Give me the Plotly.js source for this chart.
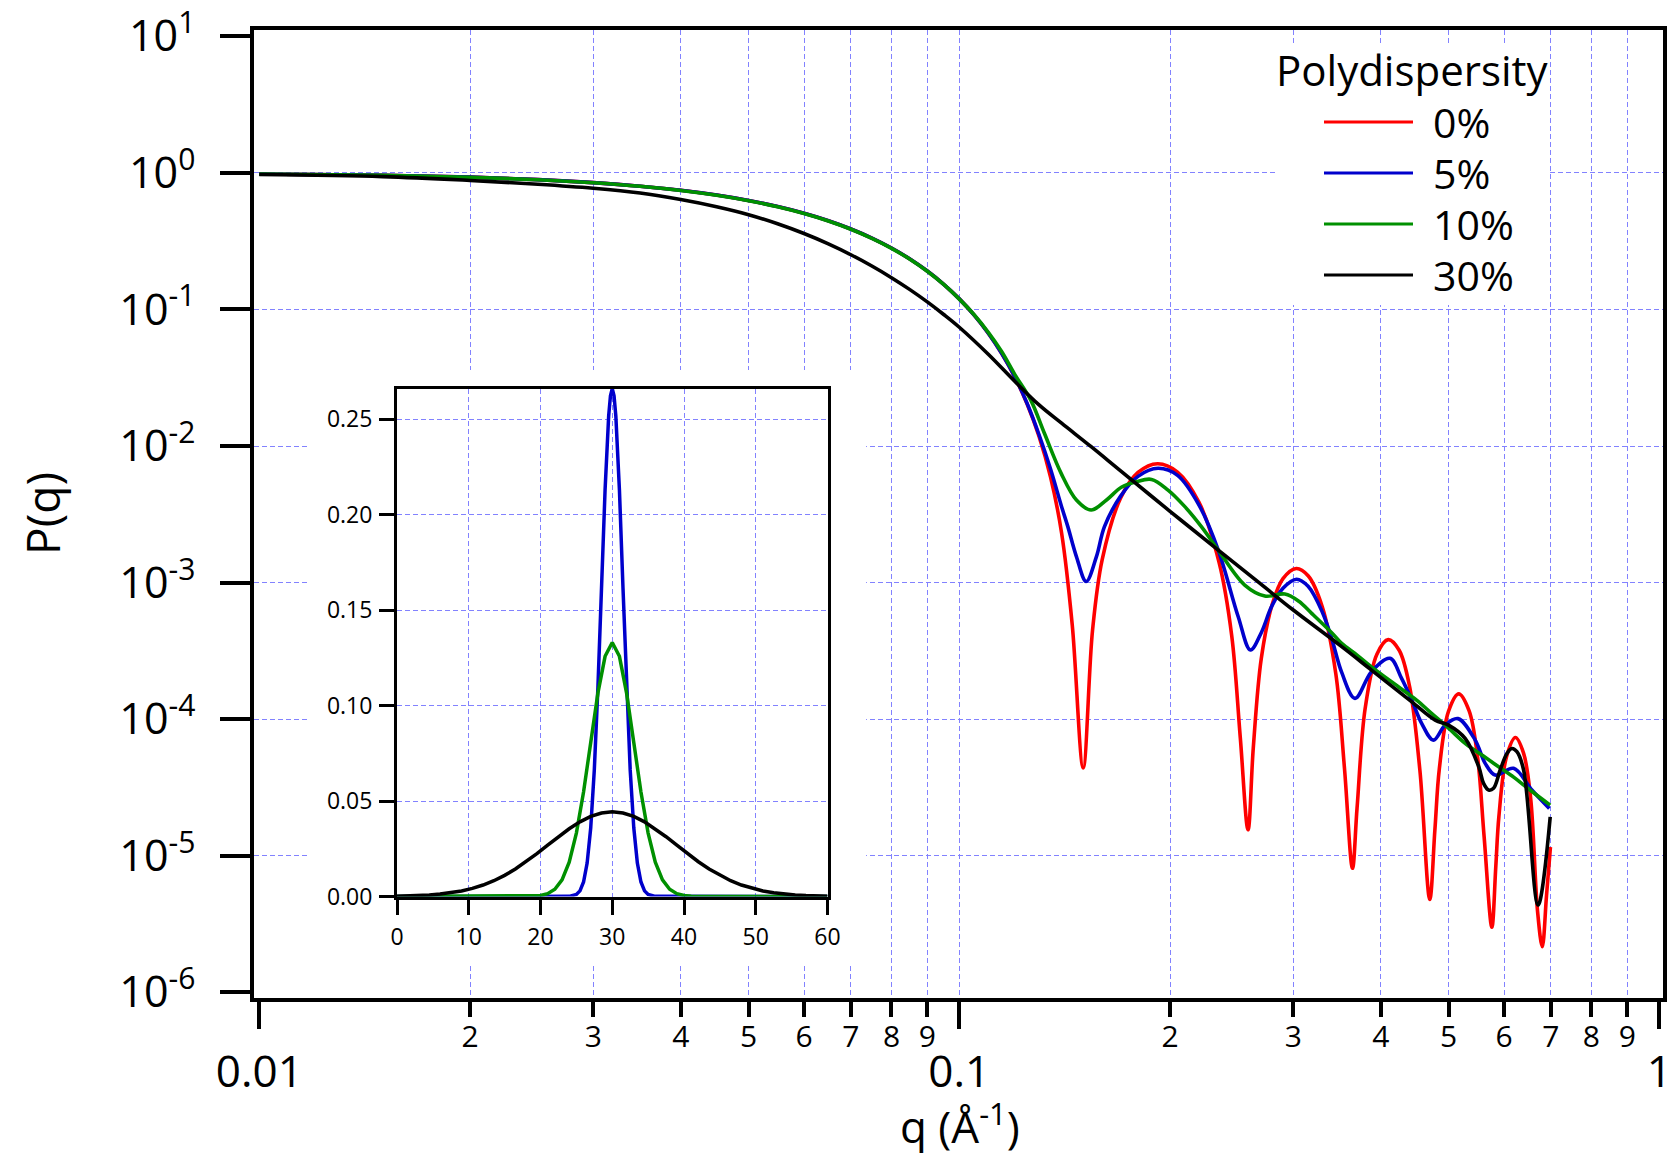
<!DOCTYPE html>
<html>
<head>
<meta charset="utf-8">
<script src="https://cdn.plot.ly/plotly-3.0.1.min.js"></script>
<style>
html,body{margin:0;padding:0;background:#ffffff;}
#chart{width:1673px;height:1153px;}
</style>
</head>
<body>
<div id="chart"></div>
<script>
// ---------------- data ----------------
const seriesNames = ['0%', '5%', '10%', '30%'];

const qRed = [0.01,0.015,0.02,0.025,0.03,0.035,0.04,0.045,0.05,0.055,0.06,0.065,0.07,0.075,0.08,0.085,0.09,0.095,0.1,0.105,0.11,0.115,0.12,0.125,0.13,0.135,0.14,0.145,0.1503,0.155,0.16,0.17,0.18,0.192,0.205,0.22,0.235,0.245,0.252,0.2585,0.263,0.27,0.28,0.29,0.303,0.315,0.33,0.345,0.355,0.3645,0.37,0.38,0.395,0.41,0.425,0.44,0.455,0.47,0.478,0.485,0.5,0.517,0.535,0.55,0.562,0.5765,0.584,0.59,0.605,0.623,0.64,0.655,0.67,0.6805,0.69,0.699];
const pRed = [0.9821,0.9602,0.9302,0.8928,0.8488,0.7992,0.7451,0.6876,0.6278,0.5669,0.5060,0.4461,0.3882,0.3331,0.2816,0.2341,0.1911,0.1529,0.1195,0.09092,0.06701,0.04752,0.03209,0.02032,0.01175,0.005931,0.002312,4.89e-4,4.4e-5,4.47e-4,1.476e-3,4.165e-3,6.403e-3,7.425e-3,6.453e-3,3.868e-3,1.409e-3,4.087e-4,7.35e-5,1.55e-5,6.15e-5,2.776e-4,6.969e-4,1.069e-3,1.268e-3,1.122e-3,6.66e-4,2.16e-4,4.39e-5,8.1e-6,2.23e-5,1.197e-4,2.991e-4,3.824e-4,3.197e-4,1.717e-4,4.22e-5,4.8e-6,1.546e-5,4.32e-5,1.147e-4,1.534e-4,1.151e-4,5.28e-5,1.385e-5,3.0e-6,8.3e-6,1.94e-5,5.32e-5,7.34e-5,5.62e-5,2.63e-5,3.93e-6,2.16e-6,5.09e-6,1.16e-5];

const qBlue = [0.01,0.015,0.02,0.025,0.03,0.035,0.04,0.045,0.05,0.055,0.06,0.065,0.07,0.075,0.08,0.085,0.09,0.095,0.1,0.105,0.11,0.115,0.12,0.125,0.13,0.135,0.14,0.1429,0.147,0.1518,0.157,0.1612,0.17,0.18,0.1923,0.205,0.22,0.2344,0.2503,0.2606,0.27,0.2793,0.29,0.3032,0.315,0.33,0.3404,0.3518,0.3675,0.388,0.4124,0.4284,0.443,0.4576,0.4757,0.4943,0.5157,0.5458,0.564,0.5829,0.6192,0.6577,0.6965];
const pBlue = [0.9821,0.9602,0.9302,0.8928,0.8488,0.7992,0.7451,0.6876,0.6278,0.5669,0.5060,0.4461,0.3882,0.3331,0.2816,0.2341,0.1911,0.1529,0.1195,0.09092,0.06701,0.04752,0.03215,0.02050,0.0121,0.0068,0.0036,0.00257,0.00155,0.00102,0.00155,0.00257,0.0043,0.0060,0.00687,0.0061,0.0037,0.00173,5.63e-4,3.21e-4,4.3e-4,6.67e-4,9.1e-4,1.06e-3,9.4e-4,6.1e-4,3.9e-4,2.2e-4,1.42e-4,2.23e-4,2.79e-4,1.99e-4,1.38e-4,9.33e-5,7.03e-5,9.06e-5,1.01e-4,7.03e-5,4.75e-5,3.9e-5,4.37e-5,3.03e-5,2.22e-5];

const qGreen = [0.01,0.015,0.02,0.025,0.03,0.035,0.04,0.045,0.05,0.055,0.06,0.065,0.07,0.075,0.08,0.085,0.09,0.095,0.1,0.105,0.11,0.115,0.12,0.1265,0.1323,0.1398,0.147,0.1543,0.1623,0.1704,0.179,0.1882,0.1987,0.21,0.222,0.2344,0.2557,0.2732,0.2918,0.3055,0.3187,0.3404,0.3518,0.37,0.388,0.4238,0.45,0.4732,0.5,0.528,0.56,0.5894,0.62,0.65,0.6985];
const pGreen = [0.9815,0.9595,0.9293,0.8915,0.8472,0.7975,0.7430,0.6853,0.6255,0.5646,0.5037,0.4440,0.3864,0.3316,0.2804,0.2333,0.1906,0.1525,0.1190,0.0915,0.0680,0.0490,0.0335,0.0217,0.0124,0.00631,0.00403,0.0034,0.00403,0.00499,0.00548,0.0057,0.00476,0.0036,0.00255,0.00173,9.6e-4,7.98e-4,8.25e-4,7.3e-4,5.96e-4,4.3e-4,3.59e-4,2.95e-4,2.42e-4,1.73e-4,1.38e-4,1.1e-4,8.6e-5,6.66e-5,5.4e-5,4.49e-5,3.75e-5,3.1e-5,2.35e-5];

const qBlack = [0.01,0.015,0.02,0.025,0.03,0.035,0.04,0.045,0.05,0.055,0.06,0.065,0.07,0.075,0.08,0.085,0.09,0.095,0.1,0.11,0.12,0.13,0.14,0.1543,0.17,0.2,0.2344,0.27,0.3,0.3518,0.388,0.443,0.4784,0.4999,0.528,0.5521,0.561,0.5704,0.5797,0.5925,0.6058,0.6158,0.626,0.64,0.6712,0.6985];
const pBlack = [0.972,0.938,0.880,0.826,0.772,0.712,0.638,0.565,0.494,0.424,0.3597,0.3021,0.2516,0.2079,0.1709,0.1397,0.1136,0.0919,0.0741,0.0470,0.0298,0.0200,0.0147,0.00989,0.00658,0.00333,0.00173,9.7e-4,6.3e-4,3.4e-4,2.29e-4,1.34e-4,9.86e-5,9.06e-5,7.24e-5,4.49e-5,3.39e-5,3.03e-5,3.12e-5,4.25e-5,5.62e-5,6.11e-5,5.78e-5,4.25e-5,4.36e-6,1.93e-5];

// inset: size distributions
const rBlue = [0,24,25,25.5,26,26.5,27,27.5,28,28.5,29,29.5,29.75,30,30.25,30.5,31,31.5,32,32.5,33,33.5,34,34.5,35,36,60];
const dBlue = [0,0.00009,0.00103,0.00296,0.0076,0.0175,0.0360,0.0663,0.1093,0.1613,0.2130,0.2516,0.2623,0.2660,0.2623,0.2516,0.2130,0.1613,0.1093,0.0663,0.0360,0.0175,0.0076,0.00296,0.00103,0.00009,0];
const rGreen = [0,18,19,20,21,22,23,24,25,26,27,28,29,30,31,32,33,34,35,36,37,38,39,40,41,42,60];
const dGreen = [0,0.000045,0.00016,0.00051,0.00148,0.0038,0.00874,0.0180,0.0332,0.0547,0.0807,0.1065,0.1258,0.1330,0.1258,0.1065,0.0807,0.0547,0.0332,0.0180,0.00874,0.0038,0.00148,0.00051,0.00016,0.000045,0];
const rBlack = [0,1.5,3,4.5,6,7.5,9,10.5,12,13.5,15,16.5,18,19.5,21,22.5,24,25.5,27,28.5,30,31.5,33,34.5,36,37.5,39,40.5,42,43.5,45,46.5,48,49.5,51,52.5,54,55.5,57,58.5,60];
const dBlack = [0.00017,0.00029,0.00049,0.00080,0.00127,0.00195,0.00291,0.00424,0.00600,0.00825,0.01106,0.01439,0.01822,0.02244,0.02689,0.03132,0.03549,0.03912,0.04193,0.04372,0.04433,0.04372,0.04193,0.03912,0.03549,0.03132,0.02689,0.02244,0.01822,0.01439,0.01106,0.00825,0.00600,0.00424,0.00291,0.00195,0.00127,0.00080,0.00049,0.00029,0.00017];

// tick labels / grid positions
const xDecadeTicks = [0.01, 0.1, 1];
const xDecadeLabels = ['0.01', '0.1', '1'];
const xMinorTicks = [0.02,0.03,0.04,0.05,0.06,0.07,0.08,0.09,0.2,0.3,0.4,0.5,0.6,0.7,0.8,0.9];
const xMinorLabels = ['2','3','4','5','6','7','8','9','2','3','4','5','6','7','8','9'];
const xGridVals = [0.02,0.03,0.04,0.05,0.06,0.07,0.08,0.09,0.1,0.2,0.3,0.4,0.5,0.6,0.7,0.8,0.9];
const yTicks = [1e-6,1e-5,1e-4,1e-3,1e-2,1e-1,1,10];
const yLabels = ['10<sup>-6</sup>','10<sup>-5</sup>','10<sup>-4</sup>','10<sup>-3</sup>','10<sup>-2</sup>','10<sup>-1</sup>','10<sup>0</sup>','10<sup>1</sup>'];
const yGridVals = [1e-5,1e-4,1e-3,1e-2,1e-1,1];
const insetXTicks = [0,10,20,30,40,50,60];
const insetYTicks = [0,0.05,0.10,0.15,0.20,0.25];

// ---------------- styling / layout ----------------
const colors = ['#ff0000', '#0000cc', '#009000', '#000000'];
const FONT = 'Open Sans, Noto Sans, sans-serif';
const W = 1673, H = 1153;
const L = 254, R = 1663, T = 30, B = 998;
const px = X => (X - L) / (R - L);
const py = Y => (B - Y) / (B - T);
const GRID = 'rgb(130,130,255)';
const GRIDDASH = '5px,3px';

const mainX = xDecadeTicks.concat(xMinorTicks).sort((a, b) => a - b);
const mainXText = mainX.map(v => {
  const i = xMinorTicks.indexOf(v);
  return i >= 0 ? xMinorLabels[i] : '';
});

const lw = 3.6;
const sp = {shape: 'spline', smoothing: 1};
const traces = [
  {x: qRed, y: pRed, name: seriesNames[0], mode: 'lines', line: Object.assign({color: colors[0], width: lw}, sp)},
  {x: qBlue, y: pBlue, name: seriesNames[1], mode: 'lines', line: Object.assign({color: colors[1], width: lw}, sp)},
  {x: qGreen, y: pGreen, name: seriesNames[2], mode: 'lines', line: Object.assign({color: colors[2], width: lw}, sp)},
  {x: qBlack, y: pBlack, name: seriesNames[3], mode: 'lines', line: Object.assign({color: colors[3], width: lw}, sp)},
  {x: [], y: [], xaxis: 'x2', yaxis: 'y', mode: 'lines', showlegend: false, hoverinfo: 'skip'},
  {x: [], y: [], xaxis: 'x4', yaxis: 'y', mode: 'lines', showlegend: false, hoverinfo: 'skip'},
  {x: [], y: [], xaxis: 'x', yaxis: 'y2', mode: 'lines', showlegend: false, hoverinfo: 'skip'},
  {x: rBlue, y: dBlue, xaxis: 'x3', yaxis: 'y3', mode: 'lines', line: {color: colors[1], width: 3.5}},
  {x: rGreen, y: dGreen, xaxis: 'x3', yaxis: 'y3', mode: 'lines', line: {color: colors[2], width: 3.5}},
  {x: rBlack, y: dBlack, xaxis: 'x3', yaxis: 'y3', mode: 'lines', line: {color: colors[3], width: 3.5}}
];

const xRange = [-2.0076, 0.0053];
const yRange = [-6.041, 1.046];

const shapes = [
  // white background behind the inset (interrupts the main grid)
  {type: 'rect', xref: 'x', yref: 'y', x0: 0.01178, x1: 0.0736, y0: 1.64e-6, y1: 0.036,
   fillcolor: '#ffffff', line: {width: 0}, layer: 'between'},
  // white background behind the legend
  {type: 'rect', xref: 'x', yref: 'y', x0: 0.2852, x1: 0.697, y0: 0.1077, y1: 8.63,
   fillcolor: '#ffffff', line: {width: 0}, layer: 'between'}
];
const legendY = [122, 173, 224, 275];
const annotations = [];
legendY.forEach((Y, i) => {
  shapes.push({type: 'line', xref: 'paper', yref: 'paper', x0: px(1324), x1: px(1413), y0: py(Y), y1: py(Y),
    line: {color: colors[i], width: 3}, layer: 'above'});
  annotations.push({xref: 'paper', yref: 'paper', x: px(1432), y: py(Y), xanchor: 'left', yanchor: 'middle',
    text: seriesNames[i], showarrow: false, borderpad: 0, font: {family: FONT, size: 41, color: '#000'}});
});
annotations.push({xref: 'paper', yref: 'paper', x: px(1275), y: py(70), xanchor: 'left', yanchor: 'middle',
  text: 'Polydispersity', showarrow: false, borderpad: 0, font: {family: FONT, size: 42, color: '#000'}});
annotations.push({xref: 'paper', yref: 'paper', x: px(960), y: py(1124), xanchor: 'center', yanchor: 'middle',
  text: 'q (Å<sup>-1</sup>)', showarrow: false, borderpad: 0, font: {family: FONT, size: 44, color: '#000'}});
annotations.push({xref: 'paper', yref: 'paper', x: px(42), y: py(514), xanchor: 'center', yanchor: 'middle',
  text: 'P(q)', textangle: -90, showarrow: false, borderpad: 0, font: {family: FONT, size: 46, color: '#000'}});

const gridAxis = {showgrid: true, gridcolor: GRID, gridwidth: 1, griddash: GRIDDASH, zeroline: false};

const layout = {
  width: W, height: H,
  margin: {l: L, r: W - R, t: T, b: H - B, pad: 0},
  paper_bgcolor: '#ffffff', plot_bgcolor: '#ffffff',
  font: {family: FONT, color: '#000'},
  showlegend: false,
  xaxis: {
    type: 'log', range: xRange, automargin: false,
    tickmode: 'array', tickvals: mainX, ticktext: mainXText,
    ticks: 'outside', ticklen: 15, tickwidth: 4, tickcolor: '#000',
    tickfont: {family: FONT, size: 30, color: '#000'}, ticklabelstandoff: -6,
    showline: true, linewidth: 4, linecolor: '#000', mirror: true,
    showgrid: false, zeroline: false
  },
  xaxis2: {
    type: 'log', range: xRange, overlaying: 'x', anchor: 'y', side: 'bottom', automargin: false,
    tickmode: 'array', tickvals: xDecadeTicks, ticktext: xDecadeLabels,
    ticks: 'outside', ticklen: 30, tickwidth: 4, tickcolor: '#000',
    tickfont: {family: FONT, size: 44, color: '#000'}, ticklabelstandoff: 5,
    showline: false, showgrid: false, zeroline: false
  },
  xaxis4: Object.assign({
    type: 'log', range: xRange, overlaying: 'x', anchor: 'y', side: 'bottom', automargin: false,
    tickmode: 'array', tickvals: xGridVals, ticks: '', showticklabels: false, showline: false
  }, gridAxis),
  yaxis: {
    type: 'log', range: yRange, automargin: false,
    tickmode: 'array', tickvals: yTicks, ticktext: yLabels,
    ticks: 'outside', ticklen: 30, tickwidth: 4, tickcolor: '#000',
    tickfont: {family: FONT, size: 43, color: '#000'}, ticklabelstandoff: 16,
    showline: true, linewidth: 4, linecolor: '#000', mirror: true,
    showgrid: false, zeroline: false
  },
  yaxis2: Object.assign({
    type: 'log', range: yRange, overlaying: 'y', anchor: 'x', side: 'left', automargin: false,
    tickmode: 'array', tickvals: yGridVals, ticks: '', showticklabels: false, showline: false
  }, gridAxis),
  xaxis3: Object.assign({
    domain: [px(397), px(827.5)], anchor: 'y3', range: [0, 60], automargin: false,
    tickmode: 'array', tickvals: insetXTicks,
    ticks: 'outside', ticklen: 15, tickwidth: 3, tickcolor: '#000',
    tickfont: {family: FONT, size: 23, color: '#000'}, ticklabelstandoff: 3,
    showline: true, linewidth: 3, linecolor: '#000', mirror: true
  }, gridAxis),
  yaxis3: Object.assign({
    domain: [py(896.5), py(389)], anchor: 'x3', range: [0, 0.2658], automargin: false,
    tickmode: 'array', tickvals: insetYTicks, tickformat: '.2f',
    ticks: 'outside', ticklen: 15, tickwidth: 3, tickcolor: '#000',
    tickfont: {family: FONT, size: 23, color: '#000'}, ticklabelstandoff: 2,
    showline: true, linewidth: 3, linecolor: '#000', mirror: true
  }, gridAxis),
  shapes: shapes,
  annotations: annotations
};

Plotly.newPlot('chart', traces, layout, {displayModeBar: false, staticPlot: true});
</script>
</body>
</html>
